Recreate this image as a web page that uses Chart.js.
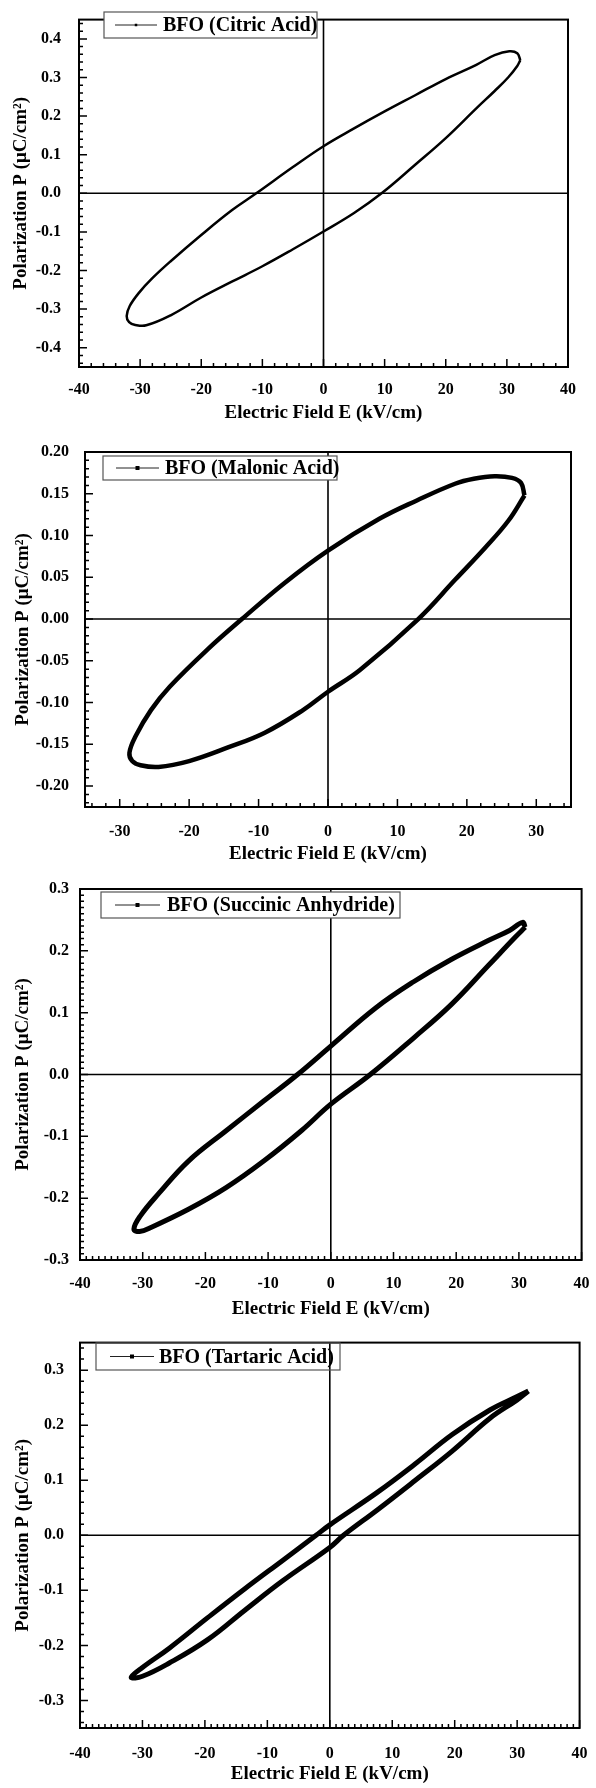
<!DOCTYPE html>
<html>
<head>
<meta charset="utf-8">
<title>BFO P-E loops</title>
<script src="https://cdn.jsdelivr.net/npm/chart.js@4.4.0/dist/chart.umd.min.js"></script>
<style>
  body { margin: 0; background: #fff; }
  #wrap { position: relative; width: 596px; height: 1788px; }
  canvas { position: absolute; left: 0; }
</style>
</head>
<body>
<div id="wrap">
  <canvas id="c1" width="596" height="430" style="top:0px"></canvas>
  <canvas id="c2" width="596" height="440" style="top:430px"></canvas>
  <canvas id="c3" width="596" height="455" style="top:870px"></canvas>
  <canvas id="c4" width="596" height="463" style="top:1325px"></canvas>
</div>
<script>
// loop data: E in kV/cm, P in uC/cm2
const citricE = [32.2, 31.7, 30.4, 28.0, 25.0, 20.0, 15.0, 10.0, 5.0, 0.0, -5.0, -11.0, -15.0, -20.0, -25.0, -28.0, -30.2, -31.7, -32.2,
                 -31.8, -30.8, -29.0, -25.0, -20.0, -15.0, -10.0, -5.0, 0.0, 5.0, 9.5, 15.0, 20.0, 25.0, 28.0, 30.2, 31.7, 32.2];
const citricP = [0.345, 0.363, 0.368, 0.358, 0.333, 0.296, 0.254, 0.212, 0.168, 0.122, 0.068, 0.000, -0.044, -0.108, -0.176, -0.220, -0.258, -0.292, -0.318,
                 -0.334, -0.341, -0.342, -0.316, -0.270, -0.229, -0.189, -0.145, -0.099, -0.051, 0.000, 0.074, 0.143, 0.220, 0.265, 0.300, 0.330, 0.345];

const malonicE = [28.3, 27.8, 26.5, 24.0, 21.0, 18.3, 12.8, 7.4, 0.0, -6.3, -12.4, -17.3, -22.8, -25.5, -27.7, -28.6,
                  -28.2, -27.0, -24.4, -20.0, -14.5, -9.1, -3.6, 0.0, 4.6, 13.0, 18.3, 22.7, 26.0, 28.3];
const malonicP = [0.148, 0.163, 0.169, 0.171, 0.168, 0.162, 0.142, 0.120, 0.082, 0.043, 0.000, -0.036, -0.081, -0.109, -0.140, -0.160,
                  -0.170, -0.175, -0.177, -0.170, -0.154, -0.136, -0.109, -0.087, -0.061, 0.000, 0.047, 0.086, 0.118, 0.148];

const succinicE = [31.0, 30.6, 28.5, 25.2, 19.2, 13.2, 7.2, 0.0, -5.3, -10.7, -16.7, -22.7, -27.4, -30.4, -31.4,
                   -30.5, -28.6, -22.7, -16.7, -10.7, -4.7, 0.0, 6.3, 13.2, 19.2, 25.2, 29.4, 31.0];
const succinicP = [0.238, 0.246, 0.233, 0.217, 0.186, 0.150, 0.108, 0.046, 0.000, -0.043, -0.091, -0.140, -0.192, -0.229, -0.250,
                   -0.254, -0.247, -0.218, -0.183, -0.140, -0.091, -0.048, 0.000, 0.059, 0.113, 0.177, 0.222, 0.238];

const tartaricE = [31.8, 30.0, 25.7, 19.6, 13.6, 7.6, 0.0, -2.2, -7.6, -13.6, -19.6, -25.7, -30.0, -31.8,
                   -30.0, -25.7, -19.6, -13.6, -7.6, 0.0, 2.2, 7.6, 13.6, 19.6, 25.7, 30.0, 31.8];
const tartaricP = [0.262, 0.252, 0.228, 0.183, 0.129, 0.078, 0.019, 0.000, -0.046, -0.097, -0.150, -0.205, -0.240, -0.258,
                   -0.256, -0.232, -0.190, -0.136, -0.083, -0.022, 0.000, 0.046, 0.099, 0.153, 0.213, 0.246, 0.262];

// tick labels
const xTicks80 = [-40, -30, -20, -10, 0, 10, 20, 30, 40];
const xTicks70 = [-30, -20, -10, 0, 10, 20, 30];
const yTicksCitric = [-0.4, -0.3, -0.2, -0.1, 0.0, 0.1, 0.2, 0.3, 0.4];
const yTicksMalonic = [-0.20, -0.15, -0.10, -0.05, 0.00, 0.05, 0.10, 0.15, 0.20];
const yTicksSuccinic = [-0.3, -0.2, -0.1, 0.0, 0.1, 0.2, 0.3];
const yTicksTartaric = [-0.3, -0.2, -0.1, 0.0, 0.1, 0.2, 0.3];

const serif = "'Liberation Serif', 'Times New Roman', serif";
const tickFont = { family: serif, size: 16, weight: 'bold', lineHeight: 1.2 };
const titleFont = { family: serif, size: 19, weight: 'bold', lineHeight: 1.2 };

// draws zero lines, frame, inward ticks and the boxed legend
function framePlugin(p) {
    return {
        id: 'frame',
        beforeDatasetsDraw(chart) {
            const { ctx, chartArea: a, scales: { x, y } } = chart;
            const x0 = x.getPixelForValue(0);
            const y0 = y.getPixelForValue(0);
            ctx.save();
            ctx.strokeStyle = '#000';
            ctx.lineWidth = 1.6;
            ctx.beginPath();
            ctx.moveTo(x0, a.top); ctx.lineTo(x0, a.bottom);
            ctx.moveTo(a.left, y0); ctx.lineTo(a.right, y0);
            ctx.stroke();
            ctx.restore();
        },
        afterDatasetsDraw(chart) {
            const { ctx, chartArea: a, scales: { x, y } } = chart;
            ctx.save();
            ctx.strokeStyle = '#000';

            // plot frame
            ctx.lineWidth = 2;
            ctx.strokeRect(a.left, a.top, a.right - a.left, a.bottom - a.top);

            // inward ticks on bottom and left (only inside the axis range)
            ctx.lineWidth = 1.5;
            ctx.beginPath();
            const tickRun = (min, max, step, fn) => {
                const first = Math.ceil(min / step - 1e-6);
                const last = Math.floor(max / step + 1e-6);
                for (let i = first; i <= last; i++) fn(i * step);
            };
            const isMajor = (v, list) => list.some(t => Math.abs(t - v) < 1e-6);
            tickRun(p.xMin, p.xMax, p.xMinor, v => {
                const px = x.getPixelForValue(v);
                const len = isMajor(v, p.xTicks) ? 8 : 4;
                ctx.moveTo(px, a.bottom); ctx.lineTo(px, a.bottom - len);
            });
            tickRun(p.yMin, p.yMax, p.yMinor, v => {
                const py = y.getPixelForValue(v);
                const len = isMajor(v, p.yTicks) ? 8 : 4;
                ctx.moveTo(a.left, py); ctx.lineTo(a.left + len, py);
            });
            ctx.stroke();

            // legend
            const L = p.legend;
            if (L.fill) {
                ctx.fillStyle = '#fff';
                ctx.fillRect(L.x, L.y, L.w, L.h);
            }
            ctx.strokeStyle = '#555';
            ctx.lineWidth = 1.2;
            ctx.strokeRect(L.x, L.y, L.w, L.h);
            const cy = L.y + L.h / 2;
            ctx.strokeStyle = '#222';
            ctx.lineWidth = 1;
            ctx.beginPath();
            ctx.moveTo(L.lineFrom, cy); ctx.lineTo(L.lineTo, cy);
            ctx.stroke();
            const mx = (L.lineFrom + L.lineTo) / 2;
            ctx.fillStyle = '#000';
            ctx.fillRect(mx - L.marker / 2, cy - L.marker / 2, L.marker, L.marker);
            ctx.font = 'bold 20px ' + serif;
            ctx.textBaseline = 'middle';
            ctx.textAlign = 'left';
            ctx.fillText(p.label, L.textX, cy + 1);
            ctx.restore();
        }
    };
}

function makePanel(id, p) {
    const canvas = document.getElementById(id);
    const points = p.E.map((e, i) => ({ x: e, y: p.P[i] }));
    return new Chart(canvas, {
        type: 'scatter',
        data: {
            datasets: [{
                label: p.label,
                data: points,
                showLine: true,
                borderColor: '#000',
                borderWidth: p.lineWidth,
                pointRadius: 0,
                tension: 0.4,
                fill: false
            }]
        },
        options: {
            responsive: false,
            animation: false,
            devicePixelRatio: 1,
            layout: { padding: { top: p.plot.top, right: 596 - p.plot.right, bottom: 0, left: 0 } },
            plugins: { legend: { display: false }, tooltip: { enabled: false } },
            scales: {
                x: {
                    type: 'linear',
                    min: p.xMin, max: p.xMax,
                    afterBuildTicks: s => { s.ticks = p.xTicks.map(v => ({ value: v })); },
                    afterFit: s => { s.height = canvas.height - p.plot.bottom; },
                    grid: { display: false },
                    border: { display: false },
                    ticks: { font: tickFont, color: '#000', padding: p.xTickPad, maxRotation: 0, autoSkip: false,
                             callback: v => String(v) },
                    title: { display: true, text: 'Electric Field E (kV/cm)', font: titleFont, color: '#000',
                             padding: { top: 0, bottom: p.xTitlePad } }
                },
                y: {
                    type: 'linear',
                    min: p.yMin, max: p.yMax,
                    afterBuildTicks: s => { s.ticks = p.yTicks.map(v => ({ value: v })); },
                    afterFit: s => { s.width = p.plot.left; },
                    grid: { display: false },
                    border: { display: false },
                    ticks: { font: tickFont, color: '#000', padding: p.yTickPad, autoSkip: false,
                             callback: v => v.toFixed(p.yDec) },
                    title: { display: true, text: 'Polarization P (\u03bcC/cm\u00b2)', font: titleFont, color: '#000',
                             padding: { top: p.yTitlePad, bottom: 0 } }
                }
            }
        },
        plugins: [framePlugin(p)]
    });
}

makePanel('c1', {
    E: citricE, P: citricP, label: 'BFO (Citric Acid)', lineWidth: 2.5,
    plot: { left: 79, top: 9, right: 568, bottom: 367 },
    xMin: -40, xMax: 40, xTicks: xTicks80, xMinor: 2,
    yMin: -0.45, yMax: 0.45, yTicks: yTicksCitric, yMinor: 0.02, yDec: 1,
    xTickPad: 5.4, xTitlePad: 5.6, yTickPad: 10, yTitlePad: 9.6,
    legend: { x: 104, y: 12, w: 213, h: 26, lineFrom: 115, lineTo: 157, marker: 2.5, textX: 163, fill: true }
});

makePanel('c2', {
    E: malonicE, P: malonicP, label: 'BFO (Malonic Acid)', lineWidth: 4.5,
    plot: { left: 85, top: 22, right: 571, bottom: 377 },
    xMin: -35, xMax: 35, xTicks: xTicks70, xMinor: 2,
    yMin: -0.225, yMax: 0.20, yTicks: yTicksMalonic, yMinor: 0.01, yDec: 2,
    xTickPad: 7.4, xTitlePad: 4.6, yTickPad: 8, yTitlePad: 12,
    legend: { x: 103, y: 26, w: 234, h: 24, lineFrom: 116, lineTo: 159, marker: 4, textX: 165, fill: true }
});

makePanel('c3', {
    E: succinicE, P: succinicP, label: 'BFO (Succinic Anhydride)', lineWidth: 5,
    plot: { left: 80, top: 19, right: 588, bottom: 390 },
    xMin: -40, xMax: 40, xTicks: xTicks80, xMinor: 1,
    yMin: -0.3, yMax: 0.3, yTicks: yTicksSuccinic, yMinor: 0.01, yDec: 1,
    xTickPad: 6.4, xTitlePad: 4.6, yTickPad: 3, yTitlePad: 11.4,
    legend: { x: 101, y: 22, w: 299, h: 26, lineFrom: 115, lineTo: 160, marker: 4, textX: 167, fill: true }
});

makePanel('c4', {
    E: tartaricE, P: tartaricP, label: 'BFO (Tartaric Acid)', lineWidth: 5,
    plot: { left: 80, top: 14, right: 584, bottom: 403 },
    xMin: -40, xMax: 40, xTicks: xTicks80, xMinor: 1,
    yMin: -0.35, yMax: 0.35, yTicks: yTicksTartaric, yMinor: 0.02, yDec: 1,
    xTickPad: 8.4, xTitlePad: 2.6, yTickPad: 8, yTitlePad: 11.3,
    legend: { x: 96, y: 18, w: 244, h: 27, lineFrom: 110, lineTo: 154, marker: 4, textX: 159, fill: false }
});
</script>
</body>
</html>
